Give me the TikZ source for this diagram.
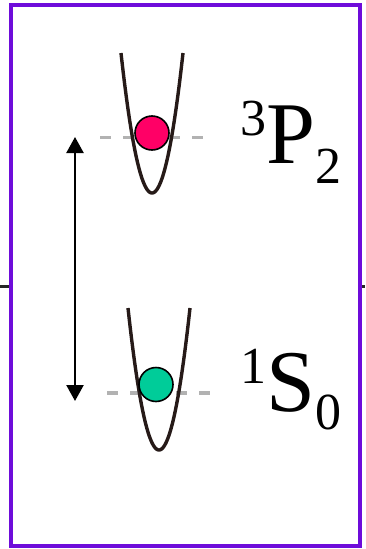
\documentclass[tikz,border=0pt]{standalone}
\usepackage{fontspec}
\setmainfont{Liberation Serif}
\newfontfamily\termfont{Liberation Serif}
\usetikzlibrary{arrows.meta}
\definecolor{boxpurple}{RGB}{110,12,218}
\definecolor{wellbrown}{RGB}{38,26,24}
\definecolor{atomred}{RGB}{255,0,102}
\definecolor{atomgreen}{RGB}{0,204,153}
\newcommand{\levelterm}[4]{{\fontsize{52}{52}\selectfont\raisebox{28pt}{#1}}{\fontsize{88}{88}\selectfont #2}{\fontsize{52}{52}\selectfont\raisebox{#4}{#3}}}

\begin{document}
\begin{tikzpicture}[x=1pt, y=-1pt,
    well/.style={wellbrown, line width=3.4pt},
    levelline/.style={gray!60, line width=3.4pt, dash pattern=on 11pt off 12pt},
    atom/.style={circle, draw=black, line width=1.6pt, minimum size=34pt, inner sep=0pt},
    term/.style={anchor=base west, inner sep=0pt, font=\termfont}]
    \useasboundingbox (0,0) rectangle (365,549);
    % frame
    \draw[black!85, line width=2.6pt] (0,286.5) -- (365,286.5);
    \draw[boxpurple, line width=3.8pt, fill=white] (11,5) rectangle (360,546);
    % level lines
    \draw[levelline] (100,137.5) -- (212,137.5);
    \draw[levelline] (107,393) -- (218,393);
    % wells
    \draw[well] plot[domain=-31:31, samples=60, smooth] ({152+\x},{193-140*(\x/31)*(\x/31)});
    \draw[well] plot[domain=-31:31, samples=60, smooth] ({159+\x},{450-142*(\x/31)*(\x/31)});
    % atoms
    \node[atom, fill=atomred] (up) at (152,133) {};
    \node[atom, fill=atomgreen] (down) at (156,384.5) {};
    % transition
    \coordinate (uptip) at (75,137);
    \coordinate (downtip) at (75,401);
    \draw[{Triangle[length=16pt,width=17pt]}-{Triangle[length=16pt,width=17pt]}, line width=2.4pt] (uptip) -- (downtip);
    % labels
    \node[term] (pterm) at (240,163) {\levelterm{3}{P}{2}{-20pt}};
    \node[term] (sterm) at (240,411) {\levelterm{1}{S}{0}{-18pt}};
\end{tikzpicture}
\end{document}
